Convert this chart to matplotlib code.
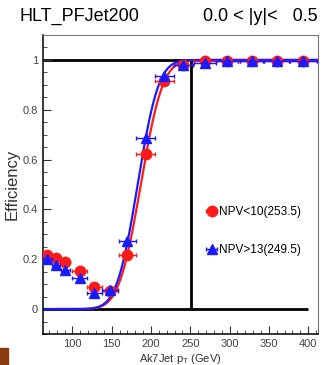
import numpy as np
import matplotlib

matplotlib.use("Agg")
import matplotlib.pyplot as plt
from matplotlib.ticker import MultipleLocator, FixedLocator, FuncFormatter
from matplotlib.patches import Rectangle
from math import erf

# ---------------------------------------------------------------------------
# Data
# ---------------------------------------------------------------------------
pt_centers = [68, 79, 91, 109, 128, 148, 170, 193, 217, 241, 269, 297, 328, 360, 394]
pt_halfwidth = [5.5, 5.5, 6, 9, 9.5, 10, 11, 11.5, 12, 12, 14, 14, 15, 16, 17]

eff_low_npv = [0.219, 0.206, 0.190, 0.153, 0.089, 0.071, 0.216, 0.622, 0.914,
               0.980, 0.997, 0.997, 0.997, 0.997, 0.997]
eff_high_npv = [0.202, 0.176, 0.156, 0.126, 0.064, 0.076, 0.275, 0.688, 0.936,
                0.978, 0.986, 0.994, 0.994, 0.994, 0.994]

label_low = "NPV<10(253.5)"
label_high = "NPV>13(249.5)"

# erf turn-on fit parameters (mu, sigma)
fit_low = (187.0, 22.0)
fit_high = (183.0, 21.0)

plateau_pt = 251.5
x_range = (62.5, 412.5)
y_range = (-0.1, 1.1)


def turn_on(x, mu, sigma):
    return np.array([0.5 * (1 + erf((v - mu) / (np.sqrt(2) * sigma))) for v in x])


# ---------------------------------------------------------------------------
# Plot
# ---------------------------------------------------------------------------
plt.rcParams["font.family"] = ["Liberation Sans", "DejaVu Sans"]
plt.rcParams["mathtext.fontset"] = "custom"
plt.rcParams["mathtext.rm"] = "Liberation Sans"
plt.rcParams["mathtext.it"] = "Liberation Sans"

fig = plt.figure(figsize=(3.22, 3.65), dpi=100)
ax = fig.add_axes([0.1335, 0.085, 0.854, 0.819])

# reference lines
ax.hlines([0, 1], x_range[0], 400, color="black", linewidth=2.0, zorder=1)
ax.vlines(plateau_pt, 0, 1, color="black", linewidth=2.0, zorder=1)

# fit curves
xs = np.linspace(x_range[0], x_range[1], 400)
ax.plot(xs, turn_on(xs, *fit_low), color="#ff1a1a", linewidth=1.6, zorder=2)
ax.plot(xs, turn_on(xs, *fit_high), color="#1a1aff", linewidth=1.6, zorder=2)

# measured points
ax.errorbar(pt_centers, eff_low_npv, xerr=pt_halfwidth, fmt="o", color="#ff1a1a",
            markersize=7.5, elinewidth=1.0, capsize=1.5, zorder=3, label=label_low)
ax.errorbar(pt_centers, eff_high_npv, xerr=pt_halfwidth, fmt="^", color="#1a1aff",
            markersize=7.5, elinewidth=1.0, capsize=1.5, zorder=4, label=label_high)

ax.set_xlim(*x_range)
ax.set_ylim(*y_range)

ax.xaxis.set_major_locator(MultipleLocator(50))
ax.xaxis.set_minor_locator(MultipleLocator(10))
ax.yaxis.set_major_locator(FixedLocator([0, 0.2, 0.4, 0.6, 0.8, 1.0]))
ax.yaxis.set_minor_locator(MultipleLocator(0.05))
ax.yaxis.set_major_formatter(FuncFormatter(lambda v, _: "%g" % round(v, 2)))

ax.tick_params(which="both", direction="in", top=False, right=False,
               labelsize=8, labelcolor="#444444", color="#333333")
ax.tick_params(which="major", length=6)
ax.tick_params(which="minor", length=3)

for side in ("left", "bottom"):
    ax.spines[side].set_color("black")
    ax.spines[side].set_linewidth(1.1)
for side in ("top", "right"):
    ax.spines[side].set_color("#777777")
    ax.spines[side].set_linewidth(0.8)

ax.set_ylabel("Efficiency", fontsize=12, color="#333333", labelpad=2)
ax.set_xlabel("Ak7Jet p$_{\\mathrm{T}}$ (GeV)", fontsize=8, color="#333333", labelpad=2)

fig.text(0.06, 0.955, "HLT_PFJet200", fontsize=13, va="center", ha="left")
fig.text(0.985, 0.955, "0.0 < |y|<   0.5", fontsize=13, va="center", ha="right")

ax.legend(loc="center left", bbox_to_anchor=(0.57, 0.345), frameon=False,
          fontsize=8.5, handlelength=1.0, handletextpad=0.1, labelspacing=2.2,
          borderpad=0)

# slide artifact in the corner
fig.patches.append(Rectangle((0, 0), 8 / 322, 17 / 365, transform=fig.transFigure,
                             color="#8a3b12", zorder=0))

fig.savefig("out.png", dpi=100)
